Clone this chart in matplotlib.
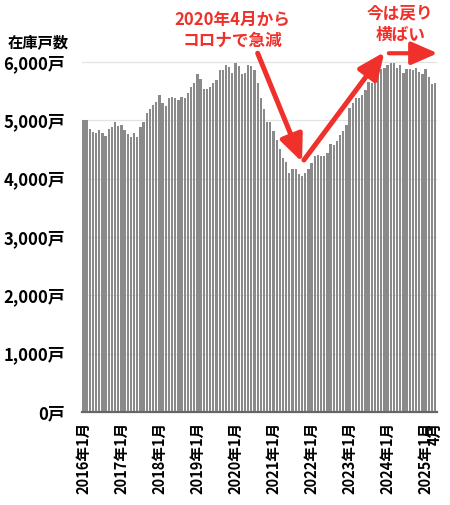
import matplotlib
matplotlib.use("Agg")
from matplotlib import pyplot as plt

plt.rcParams["font.family"] = ["Noto Sans CJK JP", "DejaVu Sans"]
plt.rcParams["font.weight"] = "bold"

# monthly inventory (戸), 2016-01 .. 2025-04
inv_2016 = [5000, 5000, 4846, 4805, 4788, 4834, 4788, 4731, 4850, 4890, 4976, 4900]
inv_2017 = [4920, 4834, 4765, 4710, 4780, 4710, 4880, 4976, 5120, 5194, 5262, 5320]
inv_2018 = [5433, 5300, 5250, 5375, 5405, 5375, 5350, 5405, 5390, 5475, 5575, 5645]
inv_2019 = [5793, 5714, 5530, 5540, 5575, 5640, 5700, 5865, 5860, 5950, 5910, 5805]
inv_2020 = [5980, 5935, 5790, 5815, 5950, 5935, 5865, 5640, 5380, 5195, 4980, 4970]
inv_2021 = [4810, 4665, 4505, 4350, 4290, 4090, 4165, 4165, 4080, 4045, 4100, 4160]
inv_2022 = [4270, 4390, 4405, 4390, 4390, 4445, 4590, 4575, 4650, 4755, 4810, 4915]
inv_2023 = [5205, 5300, 5380, 5380, 5440, 5525, 5655, 5640, 5725, 5795, 5880, 5890]
inv_2024 = [5950, 5980, 5980, 5905, 5950, 5815, 5880, 5880, 5865, 5890, 5835, 5795]
inv_2025 = [5875, 5750, 5625, 5640]

years = [2016, 2017, 2018, 2019, 2020, 2021, 2022, 2023, 2024, 2025]
inventory = (inv_2016 + inv_2017 + inv_2018 + inv_2019 + inv_2020 + inv_2021
             + inv_2022 + inv_2023 + inv_2024 + inv_2025)
y_ticks = [0, 1000, 2000, 3000, 4000, 5000, 6000]
y_labels = ["0戸", "1,000戸", "2,000戸", "3,000戸", "4,000戸", "5,000戸", "6,000戸"]

x_ticks = [12 * i for i in range(len(years))] + [len(inventory) - 1]
x_labels = ["%d年1月" % y for y in years] + ["4月"]

RED = "#f0302a"

fig = plt.figure(figsize=(4.5, 5.05), dpi=100)
ax = fig.add_axes([81.5 / 450, 93 / 505, 355.5 / 450, 385 / 505])

ax.bar(range(len(inventory)), inventory, width=0.72, color="#8a8a8a", linewidth=0, zorder=2)
ax.set_xlim(-0.6, len(inventory) - 0.4)
ax.set_ylim(0, 6600)

ax.set_yticks(y_ticks)
ax.set_yticklabels(y_labels, fontsize=12, fontweight="bold")
ax.set_xticks(x_ticks)
ax.set_xticklabels(x_labels, rotation=90, fontsize=10.5, fontweight="bold", va="top")
ax.tick_params(axis="both", length=0)
ax.tick_params(axis="y", pad=12)
ax.tick_params(axis="x", pad=7)

for v in y_ticks[1:]:
    ax.axhline(v, color="#e2e2e2", lw=0.9, zorder=1)
for s in ["top", "right", "left"]:
    ax.spines[s].set_visible(False)
ax.spines["bottom"].set_color("#666666")
ax.spines["bottom"].set_linewidth(1.6)
ax.spines["bottom"].set_zorder(3)

fig.text(8 / 450, 1 - 42 / 505, "在庫戸数", fontsize=11, fontweight="bold", va="center", ha="left")

# annotations
ax.text(47.0, 6549, "2020年4月から\nコロナで急減", color=RED, fontsize=12, fontweight="bold",
        ha="center", va="center", linespacing=1.25, clip_on=False)
ax.text(100.0, 6643, "今は戻り\n横ばい", color=RED, fontsize=12, fontweight="bold",
        ha="center", va="center", linespacing=1.25, clip_on=False)

arrow = dict(arrowstyle="-|>,head_length=0.8,head_width=0.35", color=RED, lw=3.6,
             mutation_scale=20, shrinkA=0, shrinkB=0)
ax.annotate("", xy=(69.0, 4286), xytext=(55.0, 6150), arrowprops=arrow, annotation_clip=False)
ax.annotate("", xy=(95.0, 6170), xytext=(69.6, 4320), arrowprops=arrow, annotation_clip=False)
ax.annotate("", xy=(111.8, 6150), xytext=(96.4, 6150),
            arrowprops=dict(arrow, lw=3.0), annotation_clip=False)

plt.savefig("out.png", dpi=100)
